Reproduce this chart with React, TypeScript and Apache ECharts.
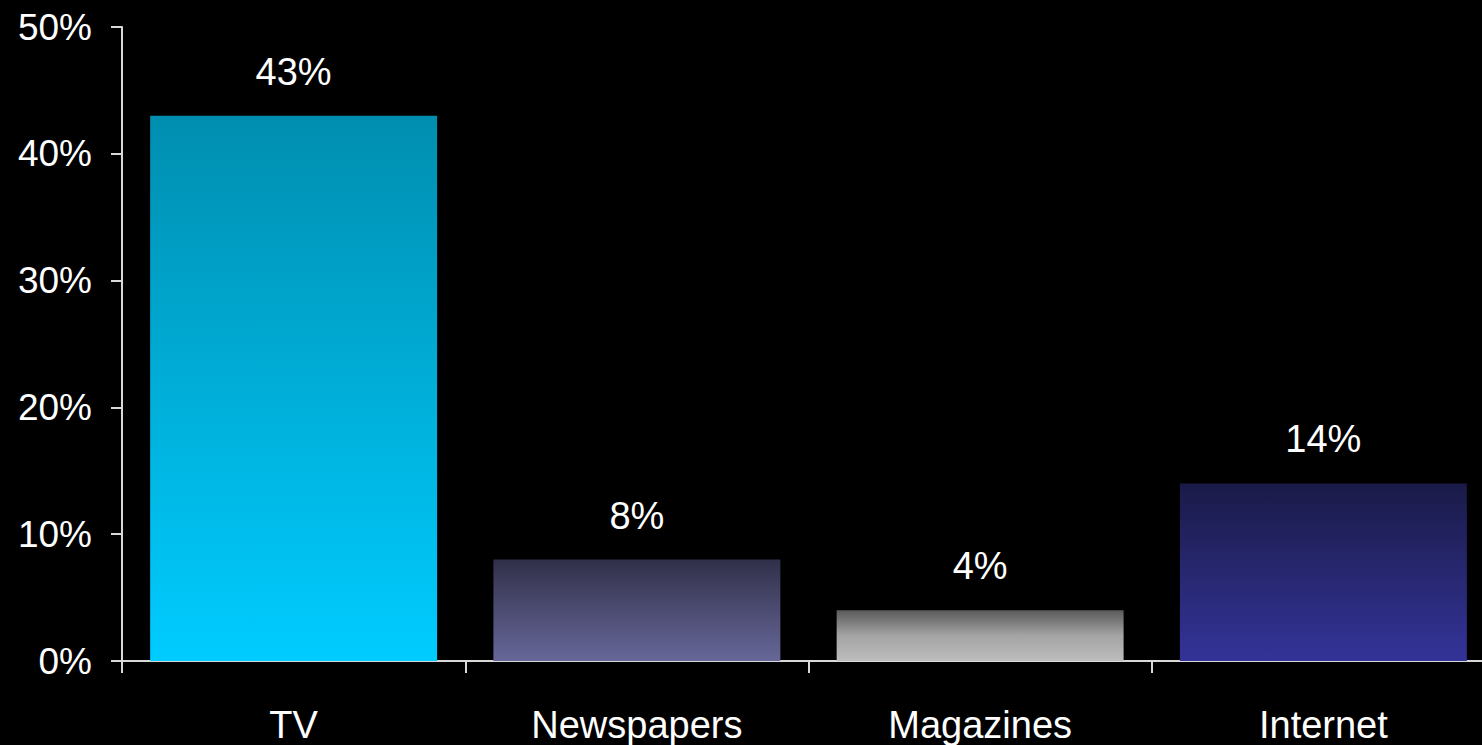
import React, { useEffect, useRef } from "react";
import * as echarts from "echarts";

const categories = ["TV", "Newspapers", "Magazines", "Internet"];
const values = [43, 8, 4, 14];
const yTicks = [0, 10, 20, 30, 40, 50];
const barTop = ["#008eb0", "#31304a", "#5a5a5a", "#1a1a48"];
const barMid = ["#00aed8", "#4c4c72", "#a4a4a4", "#272770"];
const barBottom = ["#00ccff", "#676799", "#bdbdbd", "#333399"];

export default function App() {
  const ref = useRef<HTMLDivElement>(null);
  useEffect(() => {
    document.body.style.margin = "0";
    document.body.style.background = "#000";
    document.body.style.overflow = "hidden";
    const chart = echarts.init(ref.current!, null, { renderer: "svg" });
    const font = "'Liberation Sans', Arial, sans-serif";
    chart.setOption({
      animation: false,
      backgroundColor: "#000",
      grid: { left: 122, top: 27, bottom: 84, right: 0 },
      xAxis: {
        type: "category",
        data: categories,
        axisLine: { lineStyle: { color: "#d9d9d9", width: 2 } },
        axisTick: { show: true, length: 12, lineStyle: { color: "#d9d9d9", width: 2 } },
        axisLabel: { color: "#fff", fontSize: 38, fontFamily: font, margin: 45 },
      },
      yAxis: {
        type: "value",
        min: yTicks[0],
        max: yTicks[yTicks.length - 1],
        interval: 10,
        splitLine: { show: false },
        axisLine: { show: true, lineStyle: { color: "#d9d9d9", width: 2 } },
        axisTick: { show: true, length: 11, lineStyle: { color: "#d9d9d9", width: 2 } },
        axisLabel: { color: "#fff", fontSize: 37, fontFamily: font, margin: 30, formatter: "{value}%" },
      },
      series: [
        {
          type: "bar",
          barWidth: "83.6%",
          data: values.map((v, i) => ({
            value: v,
            itemStyle: {
              color: new echarts.graphic.LinearGradient(0, 0, 0, 1, [
                { offset: 0, color: barTop[i] },
                { offset: 0.5, color: barMid[i] },
                { offset: 1, color: barBottom[i] },
              ]),
            },
          })),
          label: {
            show: true,
            position: "top",
            distance: 25,
            color: "#fff",
            fontSize: 38,
            fontFamily: font,
            formatter: "{c}%",
          },
        },
      ],
    });
    return () => chart.dispose();
  }, []);
  return <div ref={ref} style={{ position: "fixed", left: 0, top: 0, width: 1495, height: 745 }} />;
}
